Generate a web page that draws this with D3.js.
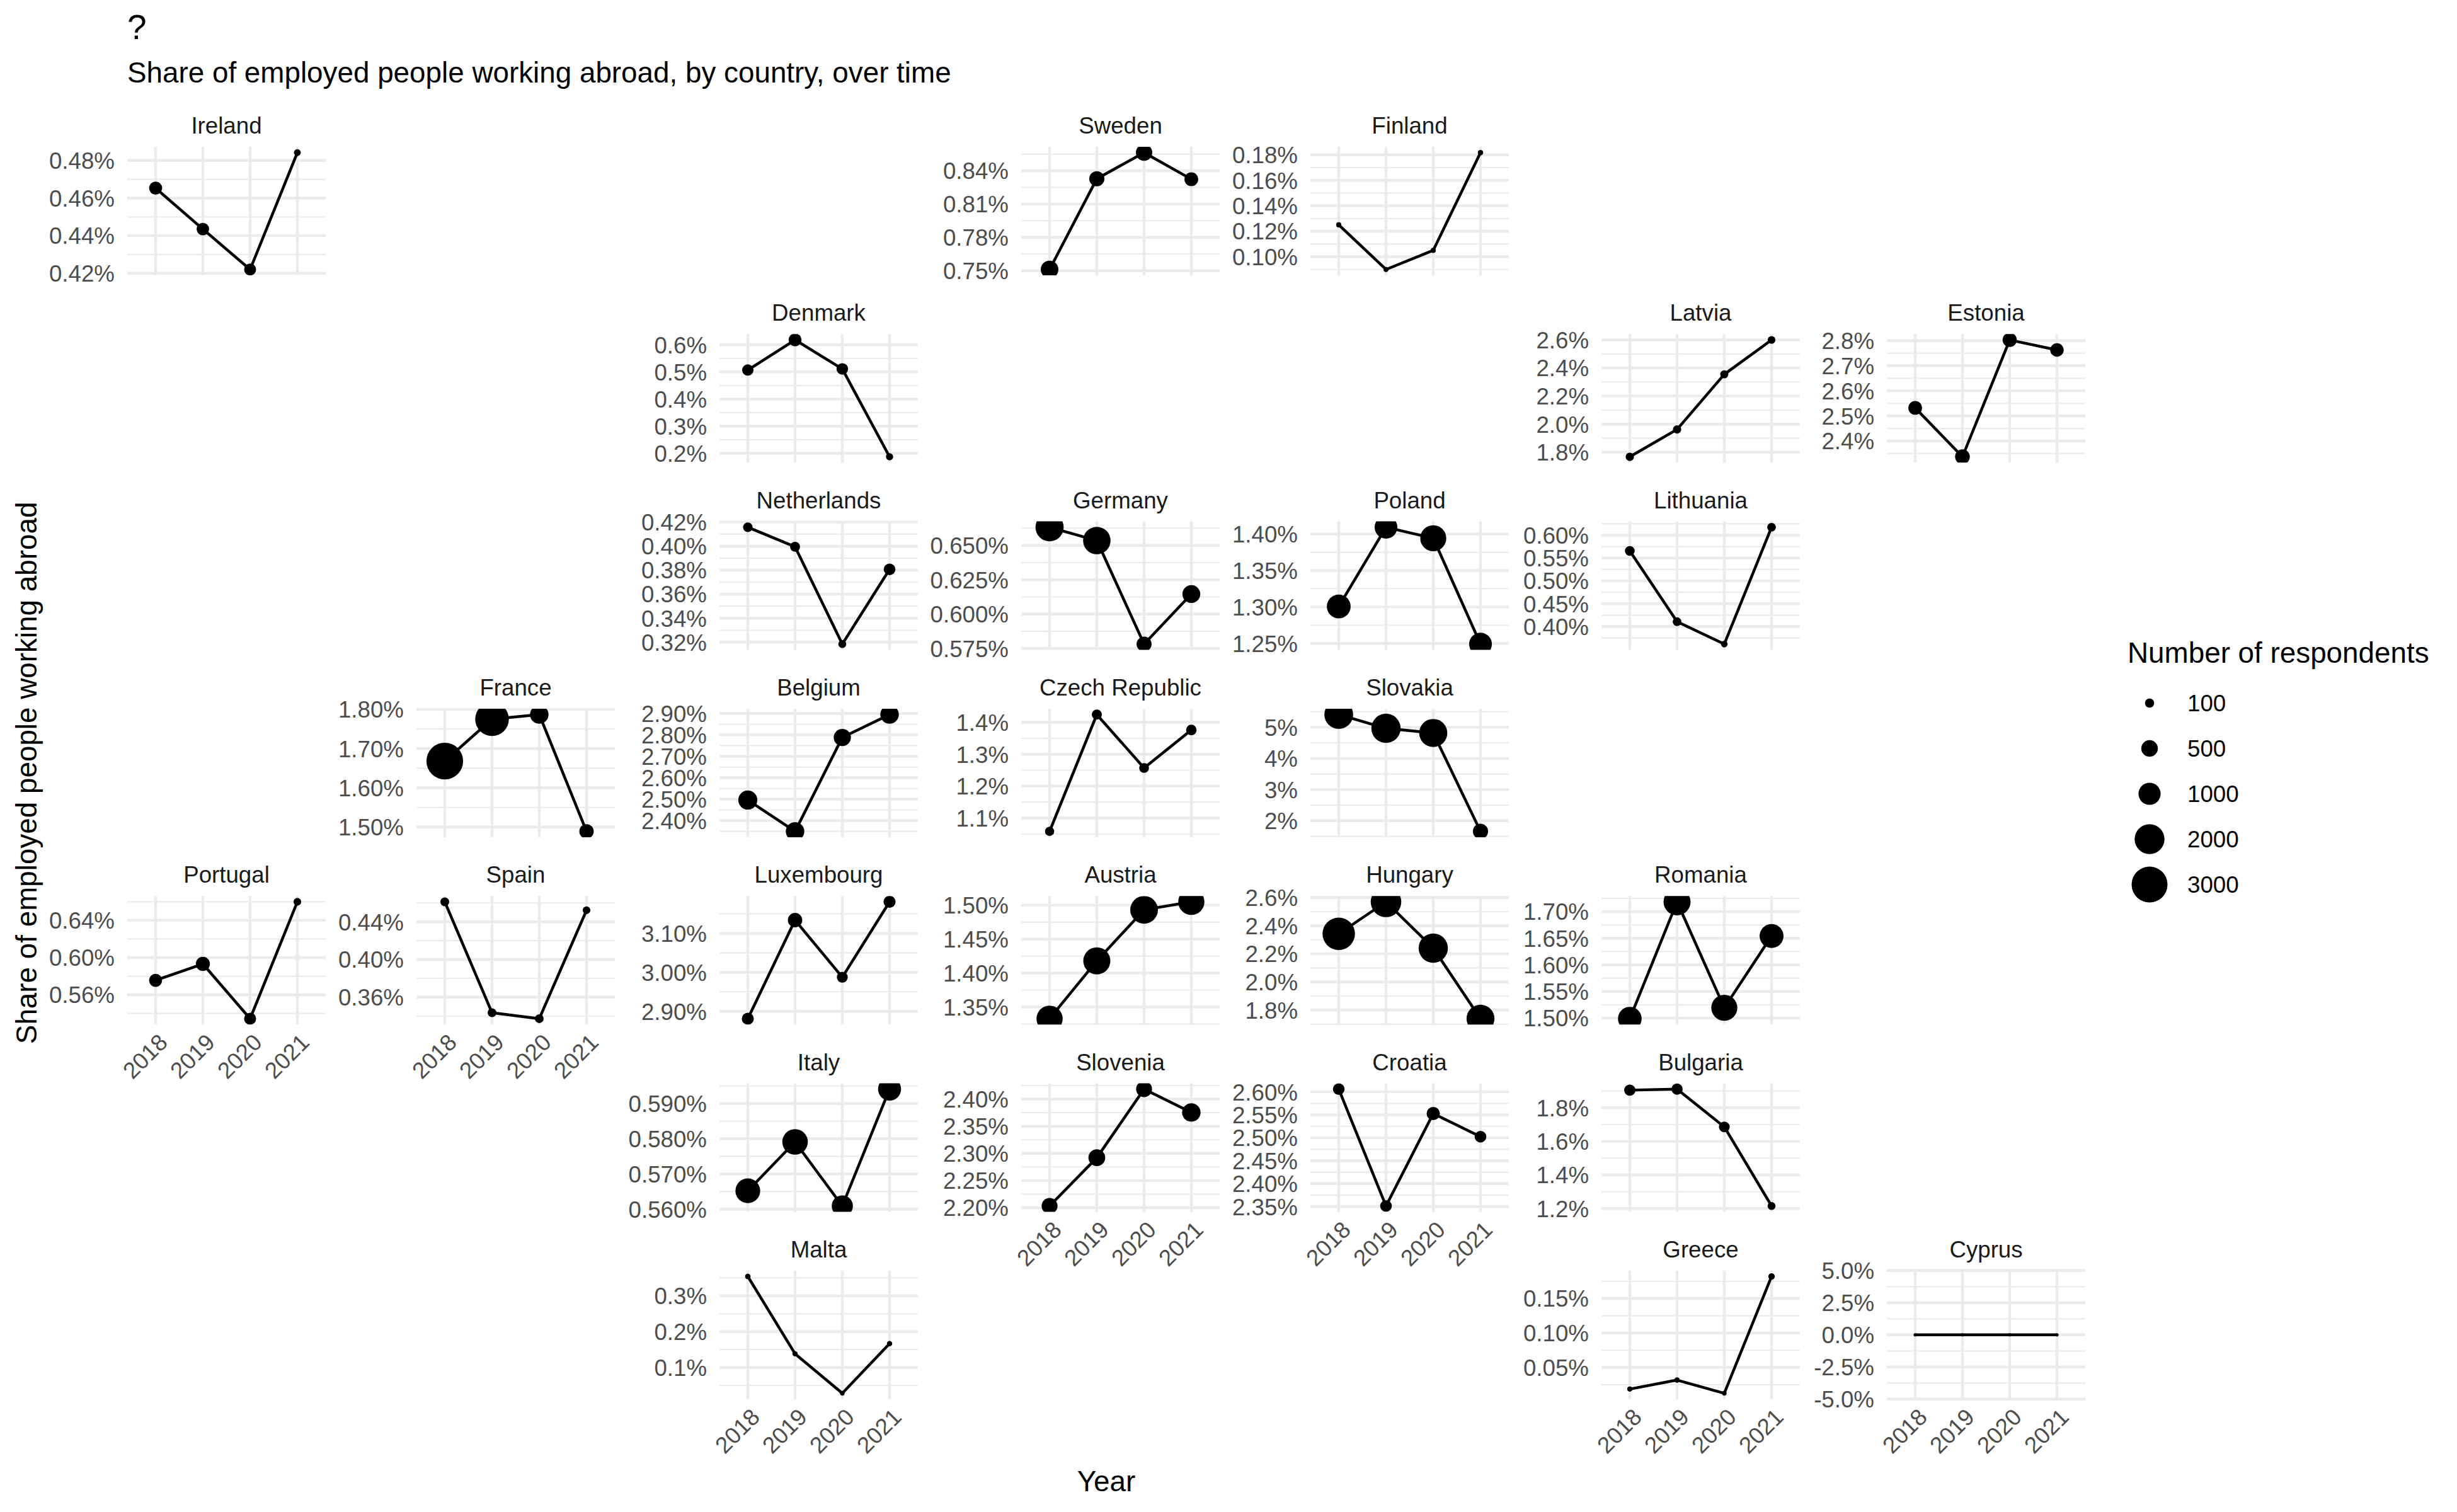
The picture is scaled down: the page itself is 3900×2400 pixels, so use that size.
<!DOCTYPE html>
<html>
<head>
<meta charset="utf-8">
<script src="https://cdn.jsdelivr.net/npm/d3@7"></script>
<style>
  body { margin: 0; background: #ffffff; }
  svg { display: block; }
  text { font-family: "Liberation Sans", Arial, Helvetica, sans-serif; }
</style>
</head>
<body>
<svg id="chart" width="3900" height="2400"></svg>
<script>
// ---------------- DATA ----------------
const years = ["2018", "2019", "2020", "2021"];

const countries = ["Ireland", "Sweden", "Finland", "Denmark", "Latvia", "Estonia",
  "Netherlands", "Germany", "Poland", "Lithuania", "France", "Belgium", "Czech Republic",
  "Slovakia", "Portugal", "Spain", "Luxembourg", "Austria", "Hungary", "Romania",
  "Italy", "Slovenia", "Croatia", "Bulgaria", "Malta", "Greece", "Cyprus"];

// geofacet grid position of each country
const gridRow = [0, 0, 0, 1, 1, 1, 2, 2, 2, 2, 3, 3, 3, 3, 4, 4, 4, 4, 4, 4, 5, 5, 5, 5, 6, 6, 6];
const gridCol = [0, 3, 4, 2, 5, 6, 2, 3, 4, 5, 1, 2, 3, 4, 0, 1, 2, 3, 4, 5, 2, 3, 4, 5, 2, 5, 6];

// share of employed people working abroad (%), by year, aligned with countries
const share2018 = [0.4653, 0.7511, 0.125, 0.507, 1.767, 2.532, 0.4158, 0.6632, 1.3006, 0.5656, 1.6683, 2.496, 1.0582, 5.408, 0.5756, 0.4612, 2.881, 1.3328, 2.3426, 1.499, 0.5652, 2.2032, 2.606, 1.905, 0.3541, 0.0186, 0];
const share2019 = [0.4435, 0.8328, 0.090, 0.618, 1.962, 2.337, 0.3995, 0.6535, 1.4094, 0.4105, 1.7752, 2.350, 1.4245, 4.966, 0.5932, 0.3435, 3.134, 1.418, 2.570, 1.7185, 0.5791, 2.2921, 2.3514, 1.911, 0.1383, 0.0317, 0];
const share2020 = [0.422, 0.8563, 0.105, 0.511, 2.355, 2.803, 0.3184, 0.5782, 1.3942, 0.3615, 1.787, 2.788, 1.257, 4.816, 0.5344, 0.3372, 2.9875, 1.4932, 2.2407, 1.5195, 0.5609, 2.4184, 2.5528, 1.686, 0.0282, 0.0125, 0];
const share2021 = [0.4842, 0.8324, 0.1817, 0.187, 2.600, 2.763, 0.3807, 0.6146, 1.249, 0.6175, 1.489, 2.895, 1.376, 1.661, 0.6599, 0.4523, 3.181, 1.505, 1.739, 1.6543, 0.5941, 2.3754, 2.5024, 1.215, 0.1665, 0.182, 0];

// number of respondents, by year, aligned with countries
const resp2018 = [270, 580, 10, 185, 72, 310, 110, 1750, 1190, 120, 3150, 700, 100, 1830, 270, 85, 215, 1480, 2400, 1170, 1300, 450, 200, 180, 15, 10, 0];
const resp2019 = [240, 400, 8, 260, 72, 370, 125, 1650, 1070, 85, 2600, 650, 130, 1900, 330, 85, 350, 1600, 2100, 1590, 1400, 520, 200, 180, 12, 14, 0];
const resp2020 = [215, 480, 9, 195, 66, 335, 60, 390, 1460, 32, 650, 550, 120, 1740, 215, 85, 165, 1680, 1900, 1460, 900, 450, 280, 160, 5, 5, 0];
const resp2021 = [36, 310, 12, 45, 55, 295, 200, 600, 1070, 85, 350, 650, 150, 400, 55, 55, 215, 1480, 1710, 1200, 1100, 650, 200, 60, 12, 30, 0];

// y tick labels of each panel, aligned with countries
const yTickLabels = [
  ["0.42%", "0.44%", "0.46%", "0.48%"],
  ["0.75%", "0.78%", "0.81%", "0.84%"],
  ["0.10%", "0.12%", "0.14%", "0.16%", "0.18%"],
  ["0.2%", "0.3%", "0.4%", "0.5%", "0.6%"],
  ["1.8%", "2.0%", "2.2%", "2.4%", "2.6%"],
  ["2.4%", "2.5%", "2.6%", "2.7%", "2.8%"],
  ["0.32%", "0.34%", "0.36%", "0.38%", "0.40%", "0.42%"],
  ["0.575%", "0.600%", "0.625%", "0.650%"],
  ["1.25%", "1.30%", "1.35%", "1.40%"],
  ["0.40%", "0.45%", "0.50%", "0.55%", "0.60%"],
  ["1.50%", "1.60%", "1.70%", "1.80%"],
  ["2.40%", "2.50%", "2.60%", "2.70%", "2.80%", "2.90%"],
  ["1.1%", "1.2%", "1.3%", "1.4%"],
  ["2%", "3%", "4%", "5%"],
  ["0.56%", "0.60%", "0.64%"],
  ["0.36%", "0.40%", "0.44%"],
  ["2.90%", "3.00%", "3.10%"],
  ["1.35%", "1.40%", "1.45%", "1.50%"],
  ["1.8%", "2.0%", "2.2%", "2.4%", "2.6%"],
  ["1.50%", "1.55%", "1.60%", "1.65%", "1.70%"],
  ["0.560%", "0.570%", "0.580%", "0.590%"],
  ["2.20%", "2.25%", "2.30%", "2.35%", "2.40%"],
  ["2.35%", "2.40%", "2.45%", "2.50%", "2.55%", "2.60%"],
  ["1.2%", "1.4%", "1.6%", "1.8%"],
  ["0.1%", "0.2%", "0.3%"],
  ["0.05%", "0.10%", "0.15%"],
  ["-5.0%", "-2.5%", "0.0%", "2.5%", "5.0%"]
];

const legendBreaks = [100, 500, 1000, 2000, 3000];

const titleText = "?";
const subtitleText = "Share of employed people working abroad, by country, over time";
const yTitleText = "Share of employed people working abroad";
const xTitleText = "Year";
const legendTitleText = "Number of respondents";

// ---------------- LAYOUT ----------------
const colLeft = [202, 661, 1142, 1621, 2080, 2542, 2995];
const rowTop0 = 233, rowStep = 297.3;
const pw = 315, ph = 204;
const gridColor = "#EBEBEB";
const majorW = 4.45, minorW = 2.2;
const axisFont = 36.7, titleFont = 45.8;

const svg = d3.select("#chart");
svg.append("rect").attr("width", 3900).attr("height", 2400).attr("fill", "#fff");
const defs = svg.append("defs");

const rScale = d3.scaleSqrt().domain([0, 3000]).range([2.6, 28.5]);
const x = d3.scalePoint().domain(years).range([0, pw]).padding(0.6);

const shares = [share2018, share2019, share2020, share2021];
const resps = [resp2018, resp2019, resp2020, resp2021];

// bottom panel of each column gets the x axis
const bottomRow = {};
countries.forEach((c, i) => {
  bottomRow[gridCol[i]] = Math.max(bottomRow[gridCol[i]] ?? -1, gridRow[i]);
});

countries.forEach((name, i) => {
  const px = colLeft[gridCol[i]];
  const py = rowTop0 + rowStep * gridRow[i];
  const g = svg.append("g").attr("transform", `translate(${px},${py})`);

  const pts = years.map((yr, k) => ({ year: yr, v: shares[k][i], n: resps[k][i] }));
  const ext = d3.extent(pts, d => d.v);
  let dom;
  if (ext[1] - ext[0] < 1e-12) dom = [ext[0] - 5, ext[0] + 5];
  else { const pad = (ext[1] - ext[0]) * 0.05; dom = [ext[0] - pad, ext[1] + pad]; }
  const y = d3.scaleLinear().domain(dom).range([ph, 0]);

  const ticks = yTickLabels[i].map(s => parseFloat(s));
  const step = ticks[1] - ticks[0];
  const minors = [];
  for (let k = -1; k < ticks.length; k++) {
    const m = ticks[0] + step * (k + 0.5);
    if (m >= dom[0] - 1e-9 && m <= dom[1] + 1e-9) minors.push(m);
  }

  // grid
  g.append("g").selectAll("line").data(minors).join("line")
    .attr("x1", 0).attr("x2", pw).attr("y1", d => y(d)).attr("y2", d => y(d))
    .attr("stroke", gridColor).attr("stroke-width", minorW);
  g.append("g").selectAll("line").data(ticks).join("line")
    .attr("x1", 0).attr("x2", pw).attr("y1", d => y(d)).attr("y2", d => y(d))
    .attr("stroke", gridColor).attr("stroke-width", majorW);
  g.append("g").selectAll("line").data(years).join("line")
    .attr("x1", d => x(d)).attr("x2", d => x(d)).attr("y1", 0).attr("y2", ph)
    .attr("stroke", gridColor).attr("stroke-width", majorW);

  // y axis
  const yAxis = d3.axisLeft(y).tickValues(ticks).tickSize(0).tickPadding(20)
    .tickFormat((d, k) => yTickLabels[i][k]);
  const ya = g.append("g").call(yAxis);
  ya.select(".domain").remove();
  ya.selectAll("text").attr("font-size", axisFont).attr("fill", "#4D4D4D")
    .attr("font-family", '"Liberation Sans", Arial, sans-serif').attr("dy", "0.35em");

  // strip
  g.append("text").attr("x", pw / 2).attr("y", -21).attr("text-anchor", "middle")
    .attr("font-size", axisFont).attr("fill", "#1A1A1A").text(name);

  // data (clipped to panel)
  const cid = "clip" + i;
  defs.append("clipPath").attr("id", cid).append("rect")
    .attr("x", 0).attr("y", 0).attr("width", pw).attr("height", ph);
  const dg = g.append("g").attr("clip-path", `url(#${cid})`);
  dg.append("path").datum(pts)
    .attr("d", d3.line().x(d => x(d.year)).y(d => y(d.v)))
    .attr("fill", "none").attr("stroke", "#000").attr("stroke-width", 4.45)
    .attr("stroke-linejoin", "round");
  dg.selectAll("circle").data(pts).join("circle")
    .attr("cx", d => x(d.year)).attr("cy", d => y(d.v)).attr("r", d => rScale(d.n))
    .attr("fill", "#000");

  // x axis for bottom panels
  if (bottomRow[gridCol[i]] === gridRow[i]) {
    const xa = g.append("g").attr("transform", `translate(0,${ph})`)
      .call(d3.axisBottom(x).tickSize(0).tickPadding(0));
    xa.select(".domain").remove();
    xa.selectAll("text")
      .attr("font-size", axisFont).attr("fill", "#4D4D4D")
      .attr("font-family", '"Liberation Sans", Arial, sans-serif')
      .attr("text-anchor", "end").attr("x", 0).attr("y", 0).attr("dy", "0.72em")
      .attr("transform", "translate(2,12) rotate(-45)");
  }
});

// titles
svg.append("text").attr("x", 202).attr("y", 62).attr("font-size", 55).attr("fill", "#000").text(titleText);
svg.append("text").attr("x", 202).attr("y", 131).attr("font-size", titleFont).attr("fill", "#000").text(subtitleText);

const panelsTop = rowTop0, panelsBottom = rowTop0 + rowStep * 6 + ph;
svg.append("text")
  .attr("transform", `translate(58,${(panelsTop + panelsBottom) / 2}) rotate(-90)`)
  .attr("text-anchor", "middle").attr("font-size", titleFont).attr("fill", "#000").text(yTitleText);
svg.append("text")
  .attr("x", (colLeft[0] + colLeft[6] + pw) / 2).attr("y", 2367)
  .attr("text-anchor", "middle").attr("font-size", titleFont).attr("fill", "#000").text(xTitleText);

// legend
const lg = svg.append("g").attr("transform", "translate(3377,0)");
lg.append("text").attr("x", 0).attr("y", 1052).attr("font-size", titleFont).attr("fill", "#000").text(legendTitleText);
const keyY = d3.scalePoint().domain(legendBreaks).range([1116, 1404]);
lg.selectAll("circle").data(legendBreaks).join("circle")
  .attr("cx", 35).attr("cy", d => keyY(d)).attr("r", d => rScale(d)).attr("fill", "#000");
lg.selectAll("text.lab").data(legendBreaks).join("text").attr("class", "lab")
  .attr("x", 95).attr("y", d => keyY(d)).attr("dy", "0.35em")
  .attr("font-size", axisFont).attr("fill", "#000").text(d => d);
</script>
</body>
</html>
